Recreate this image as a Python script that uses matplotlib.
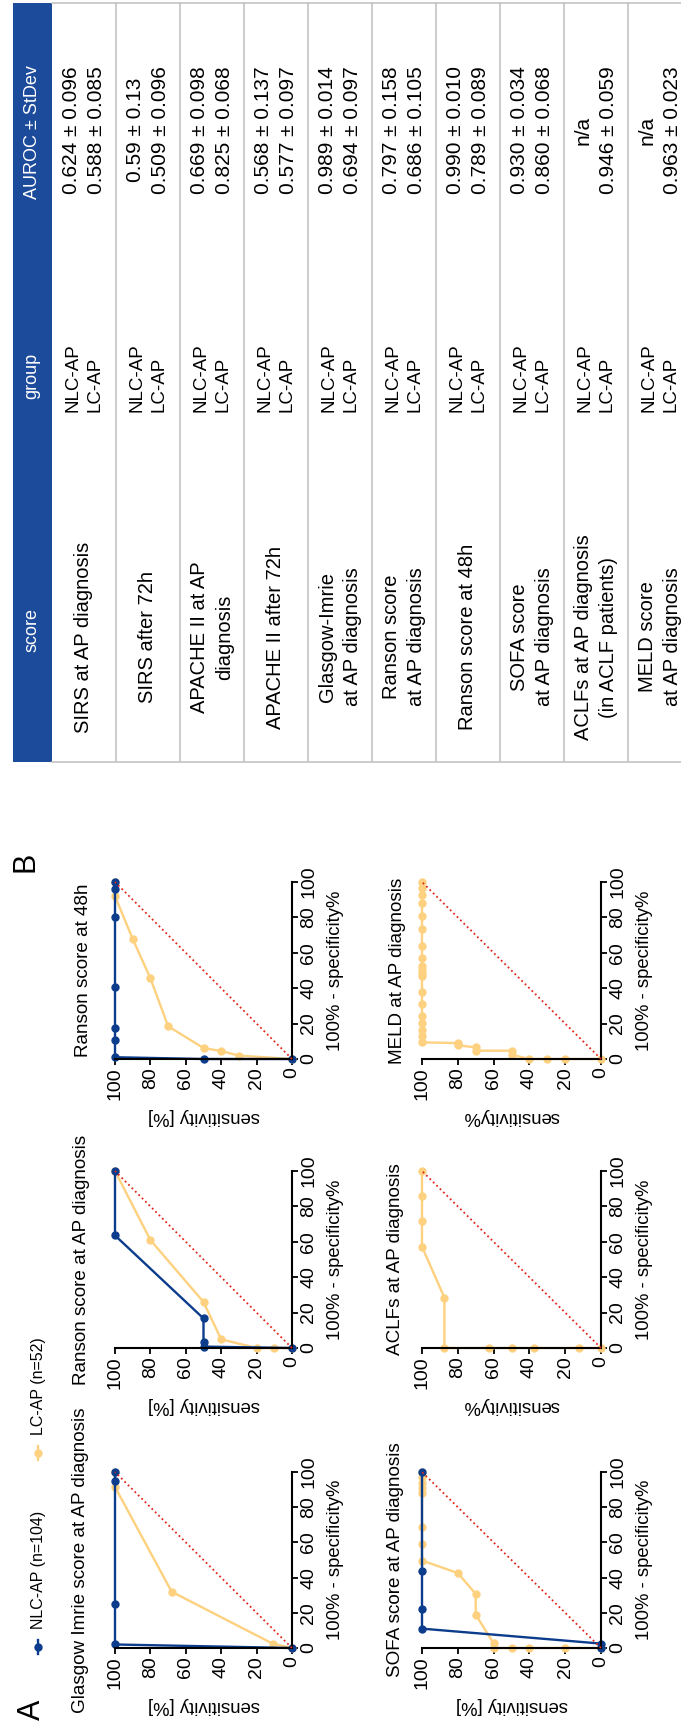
import matplotlib
matplotlib.use('Agg')
import matplotlib.pyplot as plt
from matplotlib.patches import Rectangle

plt.rcParams['font.family'] = ['Liberation Sans', 'DejaVu Sans']

W, H = 681, 1726

NLC_COLOR = '#0c3c8c'
LC_COLOR = '#fdd17f'
DIAG_COLOR = '#e3261b'
HEADER_COLOR = '#1d4b9b'
GRID_COLOR = '#c4c4c4'

# ROC points: 100% - specificity (fpr) and sensitivity, both in %
glasgow_nlc_fpr = [0, 2, 25, 95, 100]
glasgow_nlc_sens = [0, 100, 100, 100, 100]
glasgow_lc_fpr = [0, 2.5, 32, 91.5, 100]
glasgow_lc_sens = [0, 11, 68, 100, 100]

ranson_ap_nlc_fpr = [0, 0.8, 3.6, 16.7, 63.6, 100]
ranson_ap_nlc_sens = [0, 50, 50, 50, 100, 100]
ranson_ap_lc_fpr = [0, 0, 0, 4.9, 26, 61, 100]
ranson_ap_lc_sens = [0, 10, 20, 40, 50, 80, 100]

ranson48_nlc_fpr = [0, 0, 1, 10.5, 17.5, 40.5, 80, 96, 100]
ranson48_nlc_sens = [0, 50, 100, 100, 100, 100, 100, 100, 100]
ranson48_lc_fpr = [0, 1.9, 4.5, 6.2, 18.5, 45.6, 67.8, 92, 100]
ranson48_lc_sens = [0, 30, 40, 50, 70, 80, 90, 100, 100]

sofa_nlc_fpr = [0, 2.5, 11, 22, 44, 100]
sofa_nlc_sens = [0, 0, 100, 100, 100, 100]
sofa_lc_fpr = [0, 0, 0, 0, 0, 2.6, 19, 30.7, 42.6, 49.7, 59, 69, 88, 91, 94, 97, 100]
sofa_lc_sens = [0, 20, 40, 50, 60, 60, 70, 70, 80, 100, 100, 100, 100, 100, 100, 100, 100]

aclf_lc_fpr = [0, 0, 0, 0, 0, 0, 28.5, 57.2, 71.5, 85.7, 100]
aclf_lc_sens = [0, 12.5, 37.5, 50, 62.5, 87.5, 87.5, 100, 100, 100, 100]

meld_lc_fpr = [0, 0, 0, 0, 2.4, 4.7, 4.7, 6.6, 7.7, 9, 9.4, 13.2, 16.6, 20.3, 24.1,
               31.1, 37.9, 46.7, 48.6, 50.5, 52.3, 57.1, 63.7, 73.4, 80.6, 88.1,
               92.8, 96.6, 100]
meld_lc_sens = [0, 20, 30, 40, 50, 50, 70, 70, 80, 80, 100, 100, 100, 100, 100,
                100, 100, 100, 100, 100, 100, 100, 100, 100, 100, 100, 100, 100, 100]

axis_ticks = [0, 20, 40, 60, 80, 100]

# table B
score_names = [
    'SIRS at AP diagnosis',
    'SIRS after 72h',
    'APACHE II at AP\ndiagnosis',
    'APACHE II after 72h',
    'Glasgow-Imrie\nat AP diagnosis',
    'Ranson score\nat AP diagnosis',
    'Ranson score at 48h',
    'SOFA score\nat AP diagnosis',
    'ACLFs at AP diagnosis\n(in ACLF patients)',
    'MELD score\nat AP diagnosis',
]
auroc_nlc = ['0.624 ± 0.096', '0.59 ± 0.13', '0.669 ± 0.098', '0.568 ± 0.137',
             '0.989 ± 0.014', '0.797 ± 0.158', '0.990 ± 0.010', '0.930 ± 0.034',
             'n/a', 'n/a']
auroc_lc = ['0.588 ± 0.085', '0.509 ± 0.096', '0.825 ± 0.068', '0.577 ± 0.097',
            '0.694 ± 0.097', '0.686 ± 0.105', '0.789 ± 0.089', '0.860 ± 0.068',
            '0.946 ± 0.059', '0.963 ± 0.023']


fig = plt.figure(figsize=(W / 100, H / 100), dpi=100)
bg = fig.add_axes([0, 0, 1, 1])
bg.set_xlim(0, W)
bg.set_ylim(H, 0)
bg.axis('off')


def draw_table():
    top, bottom = 3, 762
    band_x0, band_x1 = 12.7, 51.7
    row_w = 64
    cell = dict(rotation=90, ha='center', linespacing=1.4)
    bg.add_patch(Rectangle((band_x0, top), band_x1 - band_x0, bottom - top,
                           color=HEADER_COLOR, lw=0))
    bg.plot([band_x1, W], [top, top], color=GRID_COLOR, lw=1.2)
    bg.plot([band_x1, W], [bottom, bottom], color=GRID_COLOR, lw=1.2)
    hx = (band_x0 + band_x1) / 2
    for label, y in [('AUROC ± StDev', 132), ('group', 376), ('score', 630)]:
        bg.text(hx, y, label, rotation=90, color='white', fontsize=13,
                ha='center', va='center')
    for i, (name, a, b) in enumerate(zip(score_names, auroc_nlc, auroc_lc)):
        x0 = band_x1 + i * row_w
        if i > 0:
            bg.plot([x0, x0], [top, bottom], color=GRID_COLOR, lw=1.2)
        cx = x0 + row_w / 2
        bg.text(cx, 637, name, fontsize=14.5, va='center',
                multialignment='center', **cell)
        bg.text(cx, 412, 'NLC-AP\nLC-AP', fontsize=13.5, va='bottom',
                multialignment='left', **cell)
        bg.text(cx, 130, a + '\n' + b, fontsize=15, va='center',
                multialignment='center', **cell)


def roc_panel(box, title_x, title, sens_label, curves):
    x0, y0, x1, y1 = box
    ax = fig.add_axes([x0 / W, 1 - y1 / H, (x1 - x0) / W, (y1 - y0) / H])
    ax.patch.set_alpha(0)
    for fpr, sens, color in curves:
        ax.plot(sens, fpr, '-o', color=color, lw=1.7, ms=5, clip_on=False)
    ax.plot([0, 100], [0, 100], ls=':', color=DIAG_COLOR, lw=1.3, zorder=4,
            clip_on=False)
    ax.set_xlim(100, 0)
    ax.set_ylim(0, 100)
    for side in ['top', 'left']:
        ax.spines[side].set_visible(False)
    for side in ['bottom', 'right']:
        ax.spines[side].set_linewidth(1.5)
    labels = [str(t) for t in axis_ticks]
    ax.set_xticks(axis_ticks, labels=labels, rotation=90, fontsize=14)
    ax.yaxis.tick_right()
    ax.set_yticks(axis_ticks, labels=labels, rotation=90, va='center', fontsize=14)
    ax.tick_params(length=4, width=1.3, pad=2)
    ax.set_xlabel(sens_label, rotation=180, fontsize=13.3, labelpad=6)
    ax.yaxis.set_label_position('right')
    ax.set_ylabel('100% - specificity%', rotation=90, fontsize=13.3, labelpad=7)
    bg.text(title_x, (y0 + y1) / 2, title, rotation=90, fontsize=13.6,
            ha='center', va='center')


draw_table()

col1, col2 = (115, 292), (422, 601)
row_top, row_mid, row_bot = (882, 1059), (1171, 1348), (1472, 1648)

roc_panel((col1[0], row_bot[0], col1[1], row_bot[1]), 81,
          'Glasgow Imrie score at AP diagnosis', 'sensitivity [%]',
          [(glasgow_lc_fpr, glasgow_lc_sens, LC_COLOR),
           (glasgow_nlc_fpr, glasgow_nlc_sens, NLC_COLOR)])
roc_panel((col1[0], row_mid[0], col1[1], row_mid[1]), 82,
          'Ranson score at AP diagnosis', 'sensitivity [%]',
          [(ranson_ap_lc_fpr, ranson_ap_lc_sens, LC_COLOR),
           (ranson_ap_nlc_fpr, ranson_ap_nlc_sens, NLC_COLOR)])
roc_panel((col1[0], row_top[0], col1[1], row_top[1]), 83,
          'Ranson score at 48h', 'sensitivity [%]',
          [(ranson48_lc_fpr, ranson48_lc_sens, LC_COLOR),
           (ranson48_nlc_fpr, ranson48_nlc_sens, NLC_COLOR)])
roc_panel((col2[0], row_bot[0], col2[1], row_bot[1]), 395,
          'SOFA score at AP diagnosis', 'sensitivity [%]',
          [(sofa_lc_fpr, sofa_lc_sens, LC_COLOR),
           (sofa_nlc_fpr, sofa_nlc_sens, NLC_COLOR)])
roc_panel((col2[0], row_mid[0], col2[1], row_mid[1]), 395,
          'ACLFs at AP diagnosis', 'sensitivity%',
          [(aclf_lc_fpr, aclf_lc_sens, LC_COLOR)])
roc_panel((col2[0], row_top[0], col2[1], row_top[1]), 397,
          'MELD at AP diagnosis', 'sensitivity%',
          [(meld_lc_fpr, meld_lc_sens, LC_COLOR)])

# legend, drawn sideways like the rest of panel A
for y, label, color in [(1647, 'NLC-AP (n=104)', NLC_COLOR),
                        (1453, 'LC-AP (n=52)', LC_COLOR)]:
    bg.plot([38, 38], [y - 7, y + 7], color=color, lw=1.7)
    bg.plot([38], [y], 'o', color=color, ms=5)
    bg.text(38, y - 18, label, rotation=90, fontsize=11.5, ha='center', va='bottom')

bg.text(32, 1710, 'A', rotation=90, fontsize=22, ha='center', va='center')
bg.text(25, 862, 'B', rotation=90, fontsize=22, ha='center', va='center')

fig.savefig('out.png', dpi=100)
